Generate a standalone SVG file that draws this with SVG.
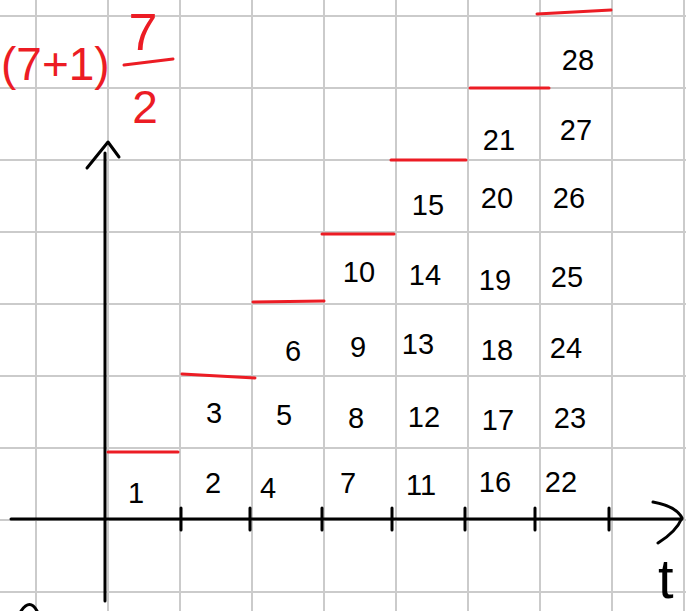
<svg xmlns="http://www.w3.org/2000/svg" width="686" height="611" viewBox="0 0 686 611">
<style>
.grid{stroke:#cbcbcb;stroke-width:2;fill:none}
.ink{stroke:#000;stroke-width:3;fill:none;stroke-linecap:round;stroke-linejoin:round}
.red{stroke:#ec1c24;stroke-width:3;fill:none;stroke-linecap:round}
.num{font-family:"Liberation Sans",Arial,sans-serif;font-size:29px;fill:#000;text-anchor:middle}
.rt{font-family:"Liberation Sans",Arial,sans-serif;fill:#ec1c24}
</style>
<rect width="686" height="611" fill="#fff"/>
<g id="grid" class="grid">
<path d="M36 0V611M108 0V611M180 0V611M252 0V611M324 0V611M396 0V611M468 0V611M540 0V611M612 0V611M684 0V611"/>
<path d="M0 16H686M0 88H686M0 160H686M0 232H686M0 304H686M0 376H686M0 448H686M0 520H686M0 592H686"/>
</g>
<g id="axes" class="ink">
<path d="M105 153V601"/>
<path d="M87 168L108 142L119 157"/>
<path d="M11 519H682"/>
<path d="M653 502Q676 506 682 518Q676 532 658 543"/>
<path d="M181 508V530M250 508V530M322 508V530M392 508V530M465 508V530M535 508V530M609 508V530"/>
<path d="M21 611Q30 598 37 611"/>
</g>
<text id="t-label" x="658" y="598" style="font-family:'Liberation Sans',Arial,sans-serif;font-size:56px;fill:#000">t</text>
<g id="steps" class="red">
<path d="M108 452H178"/>
<path d="M182 374L255 378"/>
<path d="M253 302L324 301"/>
<path d="M322 234H394"/>
<path d="M391 160H466"/>
<path d="M470 88H549"/>
<path d="M537 14L611 10"/>
</g>
<g id="formula">
<text class="rt" x="1" y="80" style="font-size:46px">(7+1)</text>
<text class="rt" x="143" y="50" text-anchor="middle" style="font-size:52px">7</text>
<path class="red" d="M124 65L173 59"/>
<text class="rt" x="145" y="123" text-anchor="middle" style="font-size:46px">2</text>
</g>
<g id="numbers" class="num">
<text x="136" y="503">1</text>
<text x="213" y="493">2</text>
<text x="214" y="423">3</text>
<text x="268" y="498">4</text>
<text x="284" y="425">5</text>
<text x="293" y="361">6</text>
<text x="348" y="493">7</text>
<text x="356" y="428">8</text>
<text x="358" y="357">9</text>
<text x="359" y="282">10</text>
<text x="421" y="495">11</text>
<text x="424" y="427">12</text>
<text x="418" y="354">13</text>
<text x="425" y="285">14</text>
<text x="428" y="215">15</text>
<text x="495" y="492">16</text>
<text x="498" y="430">17</text>
<text x="497" y="360">18</text>
<text x="495" y="290">19</text>
<text x="497" y="208">20</text>
<text x="499" y="150">21</text>
<text x="561" y="492">22</text>
<text x="570" y="428">23</text>
<text x="566" y="358">24</text>
<text x="567" y="287">25</text>
<text x="569" y="208">26</text>
<text x="576" y="140">27</text>
<text x="578" y="70">28</text>
</g>
</svg>
